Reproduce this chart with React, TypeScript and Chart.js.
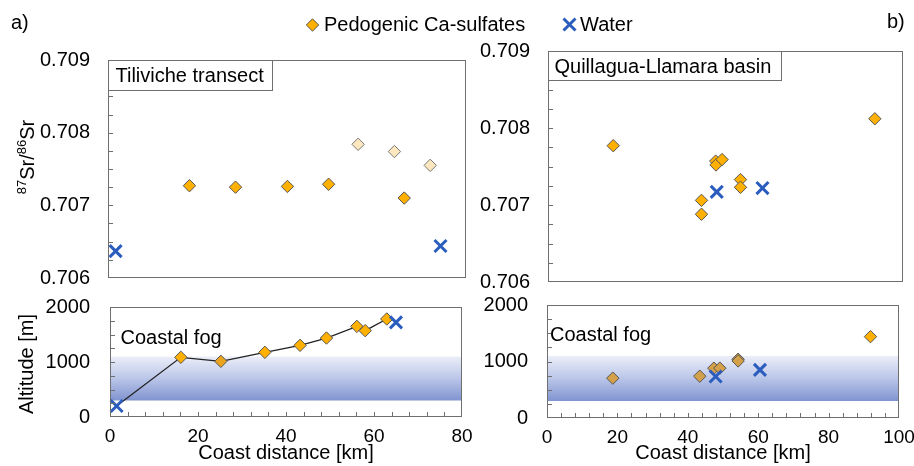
import React, { useEffect, useRef } from 'react';
import { Chart, registerables } from 'chart.js';

Chart.register(...registerables);

// ---------------- data ----------------
// a) Tiliviche transect, 87Sr/86Sr vs coast distance
const tilSulfX = [18.2, 28.5, 40.1, 49.3, 66.2];
const tilSulfSr = [0.70727, 0.70725, 0.70726, 0.70729, 0.7071];
const tilPaleX = [55.9, 64.0, 72.0];
const tilPaleSr = [0.70784, 0.70774, 0.70755];
const tilWaterX = [1.7, 74.3];
const tilWaterSr = [0.70637, 0.70644];
// a) altitude
const tilAltSulfX = [16.1, 25.2, 35.2, 43.2, 49.2, 56.1, 58.0, 62.9];
const tilAltSulf = [1085, 1012, 1176, 1303, 1436, 1648, 1570, 1782];
const tilAltWaterX = [1.5, 65.0];
const tilAltWater = [200, 1721];

// b) Quillagua-Llamara basin
const quiSulfX = [18.4, 43.3, 43.3, 47.3, 47.4, 49.1, 54.3, 54.3, 92.2];
const quiSulfSr = [0.70777, 0.70706, 0.70688, 0.70757, 0.70752, 0.70759, 0.70733, 0.70723, 0.70812];
const quiWaterX = [47.6, 60.5];
const quiWaterSr = [0.70717, 0.70722];
// b) altitude
const quiAltSulfX = [18.7, 43.4, 47.4, 49.1, 54.3, 54.3, 91.9];
const quiAltSulf = [705, 740, 882, 882, 1040, 1010, 1440];
const quiAltWaterX = [47.9, 60.5];
const quiAltWater = [735, 852];

// coastal fog altitude band [m]
const fogBand = [300, 1100];

// axis ranges / ticks
const srRange = [0.706, 0.709];
const srStep = 0.001;
const srMinor = 0.00025;
const altRange = [0, 2000];
const altStep = 1000;
const altMinor = 250;
const kmStep = 20;
const kmMinor = 4;
const tilKmMax = 80;
const quiKmMax = 100;

// ---------------- styles ----------------
const W = 914;
const H = 466;
const FONT = '"Liberation Sans", Arial, Helvetica, sans-serif';
const BLUE = '#2B5DBE';
const ORANGE = '#FFB000';
const ORANGE_DARK = '#EBA41E';
const BROWN = '#D4A04A';
const PALE = '#FDE7BE';
const EDGE = '#555555';
const EDGE_PALE = '#777777';
const FRAME = '#6f6f6f';

function pts(xs: number[], ys: number[]) {
  return xs.map((x, i) => ({ x, y: ys[i] }));
}

const waterStyle = {
  pointStyle: 'crossRot',
  pointRadius: 8.5,
  borderColor: BLUE,
  backgroundColor: BLUE,
  borderWidth: 3,
  clip: 20,
};
const sulfStyle = {
  pointStyle: 'rectRot',
  pointRadius: 6.2,
  backgroundColor: ORANGE,
  borderColor: EDGE,
  borderWidth: 1,
  clip: 20,
};

function drawDiamond(ctx: CanvasRenderingContext2D, x: number, y: number, r: number, fill: string, stroke: string) {
  ctx.beginPath();
  ctx.moveTo(x, y - r);
  ctx.lineTo(x + r, y);
  ctx.lineTo(x, y + r);
  ctx.lineTo(x - r, y);
  ctx.closePath();
  ctx.fillStyle = fill;
  ctx.fill();
  ctx.lineWidth = 1;
  ctx.strokeStyle = stroke;
  ctx.stroke();
}

function drawCross(ctx: CanvasRenderingContext2D, x: number, y: number, a: number, color: string) {
  ctx.beginPath();
  ctx.moveTo(x - a, y - a);
  ctx.lineTo(x + a, y + a);
  ctx.moveTo(x + a, y - a);
  ctx.lineTo(x - a, y + a);
  ctx.strokeStyle = color;
  ctx.lineWidth = 3;
  ctx.stroke();
}

function text(ctx: CanvasRenderingContext2D, s: string, x: number, y: number, size = 20, align: CanvasTextAlign = 'left') {
  ctx.font = `${size}px ${FONT}`;
  ctx.fillStyle = '#000';
  ctx.textAlign = align;
  ctx.textBaseline = 'middle';
  ctx.fillText(s, x, y);
}

function drawSrTitle(ctx: CanvasRenderingContext2D, baseX: number, cy: number) {
  ctx.save();
  ctx.translate(baseX, cy);
  ctx.rotate(-Math.PI / 2);
  ctx.fillStyle = '#000';
  ctx.textAlign = 'left';
  ctx.textBaseline = 'alphabetic';
  const big = `20px ${FONT}`;
  const small = `13px ${FONT}`;
  const parts: [string, string, number][] = [
    ['87', small, -8],
    ['Sr/', big, 0],
    ['86', small, -8],
    ['Sr', big, 0],
  ];
  let total = 0;
  parts.forEach(([t, f]) => {
    ctx.font = f;
    total += ctx.measureText(t).width;
  });
  let x = -total / 2;
  parts.forEach(([t, f, dy]) => {
    ctx.font = f;
    ctx.fillText(t, x, dy);
    x += ctx.measureText(t).width;
  });
  ctx.restore();
}

function drawRotated(ctx: CanvasRenderingContext2D, s: string, baseX: number, cy: number) {
  ctx.save();
  ctx.translate(baseX, cy);
  ctx.rotate(-Math.PI / 2);
  ctx.font = `20px ${FONT}`;
  ctx.fillStyle = '#000';
  ctx.textAlign = 'center';
  ctx.textBaseline = 'alphabetic';
  ctx.fillText(s, 0, 0);
  ctx.restore();
}

type Spec = {
  rect: { l: number; t: number; r: number; b: number };
  xMax: number;
  xShow: boolean;
  y: number[];
  yStep: number;
  yFmt: (v: number) => string;
  yPad: number;
  minorY: number;
  minorX?: number;
  datasets: any[];
  band?: number[];
  box?: { text: string; h: number; padL: number; padR: number };
  fog?: { dx: number; dy: number };
  extra?: (ctx: CanvasRenderingContext2D) => void;
};

const X_AXIS_H = 40;

function buildConfig(spec: Spec): any {
  const { rect } = spec;
  const decor = {
    id: 'decor',
    beforeDatasetsDraw(chart: any) {
      if (!spec.band) return;
      const ctx = chart.ctx as CanvasRenderingContext2D;
      const a = chart.chartArea;
      const ys = chart.scales.y;
      const yTop = ys.getPixelForValue(spec.band[1]);
      const yBot = ys.getPixelForValue(spec.band[0]);
      const g = ctx.createLinearGradient(0, yTop, 0, yBot);
      g.addColorStop(0, 'rgb(236,239,249)');
      g.addColorStop(0.5, 'rgb(186,197,232)');
      g.addColorStop(1, 'rgb(128,148,208)');
      ctx.save();
      ctx.fillStyle = g;
      ctx.fillRect(a.left, yTop, a.right - a.left, yBot - yTop);
      ctx.restore();
    },
    afterDatasetsDraw(chart: any) {
      const ctx = chart.ctx as CanvasRenderingContext2D;
      const a = chart.chartArea;
      const xs = chart.scales.x;
      const ys = chart.scales.y;
      ctx.save();
      ctx.strokeStyle = FRAME;
      ctx.lineWidth = 1;
      // minor ticks (inside)
      ctx.beginPath();
      const ny = Math.round((spec.y[1] - spec.y[0]) / spec.minorY);
      for (let i = 1; i < ny; i++) {
        const py = Math.round(ys.getPixelForValue(spec.y[0] + i * spec.minorY)) + 0.5;
        ctx.moveTo(a.left, py);
        ctx.lineTo(a.left + 5, py);
      }
      if (spec.minorX) {
        const nx = Math.round(spec.xMax / spec.minorX);
        for (let i = 1; i < nx; i++) {
          const px = Math.round(xs.getPixelForValue(i * spec.minorX)) + 0.5;
          ctx.moveTo(px, a.bottom);
          ctx.lineTo(px, a.bottom - 5);
        }
      }
      ctx.stroke();
      // frame
      ctx.strokeRect(Math.round(a.left) + 0.5, Math.round(a.top) + 0.5, Math.round(a.right - a.left) - 1, Math.round(a.bottom - a.top) - 1);
      // label box
      if (spec.box) {
        ctx.font = `20px ${FONT}`;
        const tw = ctx.measureText(spec.box.text).width;
        const bw = Math.round(tw + spec.box.padL + spec.box.padR);
        const bx = Math.round(a.left) + 0.5;
        const by = Math.round(a.top) + 0.5;
        ctx.fillStyle = '#fff';
        ctx.fillRect(bx, by, bw, spec.box.h);
        ctx.strokeRect(bx, by, bw, spec.box.h);
        text(ctx, spec.box.text, bx + spec.box.padL, by + spec.box.h / 2 + 1);
      }
      if (spec.fog) {
        text(ctx, 'Coastal fog', a.left + spec.fog.dx, a.top + spec.fog.dy);
      }
      if (spec.xShow) {
        text(ctx, 'Coast distance [km]', (a.left + a.right) / 2, 453, 20, 'center');
      }
      if (spec.extra) spec.extra(ctx);
      ctx.restore();
    },
  };

  return {
    type: 'scatter',
    data: { datasets: spec.datasets },
    options: {
      responsive: false,
      animation: false,
      events: [],
      layout: {
        padding: {
          left: 0,
          top: rect.t,
          right: W - rect.r,
          bottom: H - rect.b - (spec.xShow ? X_AXIS_H : 0),
        },
      },
      plugins: { legend: { display: false }, tooltip: { enabled: false } },
      scales: {
        x: {
          type: 'linear',
          min: 0,
          max: spec.xMax,
          display: spec.xShow,
          afterFit: (s: any) => {
            s.height = spec.xShow ? X_AXIS_H : 0;
            s.paddingLeft = 0;
            s.paddingRight = 0;
          },
          grid: { display: false, drawTicks: false },
          border: { display: false },
          ticks: {
            stepSize: kmStep,
            font: { family: FONT, size: 19 },
            color: '#000',
            padding: 8,
            maxRotation: 0,
            autoSkip: false,
          },
        },
        y: {
          type: 'linear',
          min: spec.y[0],
          max: spec.y[1],
          afterFit: (s: any) => {
            s.width = rect.l;
            s.paddingTop = 0;
            s.paddingBottom = 0;
          },
          grid: { display: false, drawTicks: false },
          border: { display: false },
          ticks: {
            stepSize: spec.yStep,
            callback: (v: any) => spec.yFmt(Number(v)),
            font: { family: FONT, size: 20 },
            color: '#000',
            padding: spec.yPad,
            autoSkip: false,
          },
        },
      },
    },
    plugins: [decor],
  };
}

const fmtSr = (v: number) => v.toFixed(3);
const fmtAlt = (v: number) => String(Math.round(v));

const specs: Spec[] = [
  // a) top
  {
    rect: { l: 108, t: 60, r: 466, b: 278 },
    xMax: tilKmMax,
    xShow: false,
    y: srRange,
    yStep: srStep,
    yFmt: fmtSr,
    yPad: 18,
    minorY: srMinor,
    datasets: [
      { label: 'Water', data: pts(tilWaterX, tilWaterSr), ...waterStyle },
      { label: 'Pedogenic Ca-sulfates', data: pts(tilSulfX, tilSulfSr), ...sulfStyle },
      { label: 'Pedogenic Ca-sulfates (pale)', data: pts(tilPaleX, tilPaleSr), ...sulfStyle, backgroundColor: PALE, borderColor: EDGE_PALE },
    ],
    box: { text: 'Tiliviche transect', h: 30, padL: 7, padR: 9 },
    extra: (ctx) => {
      text(ctx, 'a)', 11, 23);
      text(ctx, 'b)', 887, 22);
      drawDiamond(ctx, 312.5, 25, 6.2, ORANGE, EDGE);
      text(ctx, 'Pedogenic Ca-sulfates', 324, 25);
      drawCross(ctx, 569.5, 24.5, 6, BLUE);
      text(ctx, 'Water', 580, 25);
      drawSrTitle(ctx, 33.5, 157);
      drawRotated(ctx, 'Altitude [m]', 33, 364);
    },
  },
  // a) bottom
  {
    rect: { l: 110, t: 307, r: 462, b: 417 },
    xMax: tilKmMax,
    xShow: true,
    y: altRange,
    yStep: altStep,
    yFmt: fmtAlt,
    yPad: 20,
    minorY: altMinor,
    minorX: kmMinor,
    band: fogBand,
    datasets: [
      { label: 'Water', data: pts(tilAltWaterX, tilAltWater), ...waterStyle },
      {
        label: 'Pedogenic Ca-sulfates',
        data: pts(tilAltSulfX, tilAltSulf),
        ...sulfStyle,
        backgroundColor: [ORANGE, ORANGE_DARK, ORANGE, ORANGE, ORANGE, ORANGE, ORANGE, ORANGE],
      },
      {
        label: 'Profile',
        data: [{ x: tilAltWaterX[0], y: tilAltWater[0] }, ...pts(tilAltSulfX, tilAltSulf)],
        showLine: true,
        pointRadius: 0,
        borderColor: '#222',
        borderWidth: 1.3,
        fill: false,
        clip: 20,
      },
    ],
    fog: { dx: 10.5, dy: 31.5 },
  },
  // b) top
  {
    rect: { l: 548, t: 51, r: 904, b: 282 },
    xMax: quiKmMax,
    xShow: false,
    y: srRange,
    yStep: srStep,
    yFmt: fmtSr,
    yPad: 18,
    minorY: srMinor,
    datasets: [
      { label: 'Water', data: pts(quiWaterX, quiWaterSr), ...waterStyle },
      { label: 'Pedogenic Ca-sulfates', data: pts(quiSulfX, quiSulfSr), ...sulfStyle },
    ],
    box: { text: 'Quillagua-Llamara basin', h: 29, padL: 6, padR: 10 },
  },
  // b) bottom
  {
    rect: { l: 547, t: 305, r: 899, b: 418 },
    xMax: quiKmMax,
    xShow: true,
    y: altRange,
    yStep: altStep,
    yFmt: fmtAlt,
    yPad: 19,
    minorY: altMinor,
    minorX: kmMinor,
    band: fogBand,
    datasets: [
      { label: 'Water', data: pts(quiAltWaterX, quiAltWater), ...waterStyle },
      {
        label: 'Pedogenic Ca-sulfates',
        data: pts(quiAltSulfX, quiAltSulf),
        ...sulfStyle,
        backgroundColor: [BROWN, BROWN, BROWN, BROWN, BROWN, BROWN, ORANGE],
      },
    ],
    fog: { dx: 3, dy: 30 },
  },
];

function PanelCanvas({ spec }: { spec: Spec }) {
  const ref = useRef<HTMLCanvasElement | null>(null);
  useEffect(() => {
    if (!ref.current) return;
    const chart = new Chart(ref.current, buildConfig(spec));
    return () => chart.destroy();
  }, [spec]);
  return (
    <canvas
      ref={ref}
      width={W}
      height={H}
      style={{ position: 'absolute', left: 0, top: 0, width: W, height: H, pointerEvents: 'none' }}
    />
  );
}

export default function App() {
  return (
    <div style={{ position: 'fixed', left: 0, top: 0, width: W, height: H, background: '#fff', overflow: 'hidden' }}>
      {specs.map((s, i) => (
        <PanelCanvas key={i} spec={s} />
      ))}
    </div>
  );
}
